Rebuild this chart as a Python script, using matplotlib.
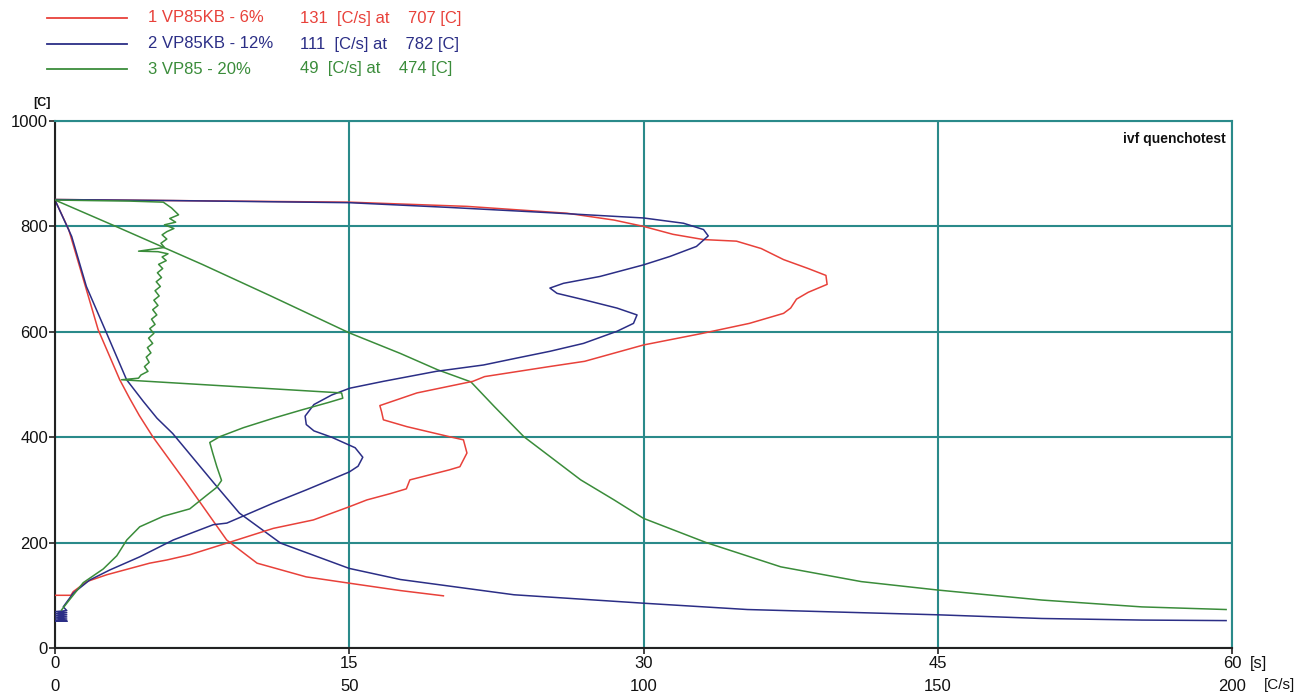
import matplotlib
matplotlib.use("Agg")
import matplotlib.pyplot as plt
from matplotlib.lines import Line2D

plt.rcParams['font.family'] = ['Liberation Sans', 'DejaVu Sans']

RED = "#e8413a"
BLUE = "#2b2e86"
GREEN = "#3a8c3a"
TEAL = "#2a8a8a"

# legend rows
names = ["1 VP85KB - 6%", "2 VP85KB - 12%", "3 VP85 - 20%"]
peak_rate = [131, 111, 49]
peak_temp = [707, 782, 474]
colors = [RED, BLUE, GREEN]

x_ticks_s = [0, 15, 30, 45, 60]
x_ticks_rate = [0, 50, 100, 150, 200]
y_ticks = [0, 200, 400, 600, 800, 1000]

# temperature vs time [s]
red_t = [0, 0.7, 1.45, 2.2, 3.3, 3.8, 4.3, 5.0, 6.7, 8.75, 10.3, 12.8, 15.0, 17.6, 19.8]
red_T = [850, 794, 699, 604, 509, 474, 441, 400, 313, 205, 161, 135, 123, 109, 99]

blue_t = [0, 0.85, 1.6, 2.6, 3.65, 4.5, 5.2, 6.0, 8.1, 9.4, 11.5, 15.0, 17.6, 23.4, 30.0,
          35.3, 41.1, 45.0, 50.3, 55.4, 59.7]
blue_T = [850, 781, 686, 600, 509, 468, 436, 407, 313, 256, 199, 151, 130, 101, 85,
          73, 67, 63, 56, 53, 52]

green_t = [0, 3.1, 7.5, 11.0, 15.0, 17.6, 19.5, 21.2, 22.4, 23.9, 26.8, 28.5, 30.0, 33.2,
           37.0, 41.1, 45.0, 50.3, 55.4, 59.7]
green_T = [850, 800, 728, 668, 598, 559, 528, 505, 458, 401, 319, 281, 246, 200,
           154, 126, 110, 91, 78, 73]

# temperature vs cooling rate [C/s]
red_r = [0, 20, 50, 70, 87, 95, 100, 105, 110.2, 115.8, 120, 123.8, 128, 131, 131.2, 128,
         126, 125, 123.8, 118, 110, 100, 90, 84, 73, 71, 61.5, 55.2, 55.5, 55.8, 59.8, 67,
         69.4, 70, 68.8, 67, 60.3, 59.7, 57, 53, 50, 43.9, 37.1, 29.2, 22.9, 19, 16.1, 8.8,
         5.4, 3.1, 2.7, 0]
red_rT = [851, 849, 846, 838, 825, 812, 800, 785, 775, 772, 758, 737, 720, 707, 690, 675,
          662, 645, 635, 616, 597, 575, 544, 534, 515, 506, 484, 460, 448, 433, 420, 401,
          395, 370, 344, 338, 319, 302, 293, 281, 268, 243, 227, 199, 177, 167, 161, 139,
          126, 107, 100, 100]

blue_r = [0, 20, 50, 67, 84, 100, 106.8, 110.2, 111, 109, 104.5, 100, 92.6, 86.4, 84.1,
          85.3, 89.8, 95.5, 98.9, 98.3, 95.5, 89.8, 84.1, 78.4, 72.8, 64.8, 55.8, 50.1, 47,
          44, 42.5, 42.7, 44, 47, 51, 52.3, 51.5, 50, 42.7, 37.1, 29.2, 26.9, 20.1, 14.4,
          9.3, 5.9, 3.1, 1.4, 2.0, 0.1, 2.0, 0.1, 2.0, 0.1, 2.0, 0.1, 2.0, 0.1, 2.0, 0.1, 2.0, 0]
blue_rT = [851, 849, 845, 836, 826, 816, 806, 794, 782, 762, 743, 727, 705, 692, 683,
           673, 661, 645, 632, 616, 601, 578, 563, 550, 537, 525, 506, 493, 480,
           462, 440, 424, 412, 400, 380, 362, 345, 334, 300, 275, 237, 234, 205, 173,
           148, 129, 104, 78, 71, 69, 67, 65, 63, 61, 59, 57, 55, 53, 51, 51, 51, 51]

green_r = [0, 6, 12.7, 18.4, 19.8, 21.0, 19.5, 20.5, 18.6, 20.2, 19.0, 18.2, 19.0, 18.0,
           18.6, 14.2, 17.5, 19.2, 18.2, 18.9, 17.6, 18.3, 17.4, 18.1, 17.2, 17.9, 17.0,
           17.7, 16.8, 17.5, 16.6, 17.3, 16.4, 17.0, 16.1, 16.8, 15.9, 16.6, 15.7, 16.3,
           15.5, 16.0, 15.2, 15.8, 14.6, 14.2, 11.3, 48.7, 48.9, 46.5, 42, 37.1, 32, 28,
           26.3, 26.8, 27.5, 28.3, 27.5, 25.8, 22.9, 18.4, 14.4, 12.2, 10.5, 8.2, 4.8, 2.5,
           1.1]
green_rT = [850, 849, 848, 846, 835, 822, 815, 808, 803, 796, 790, 784, 776, 768,
            760, 753, 752, 748, 742, 735, 728, 720, 712, 703, 695, 686, 678,
            668, 660, 650, 642, 632, 624, 614, 606, 597, 588, 578, 570, 560,
            552, 542, 534, 525, 518, 512, 509, 484, 474, 466, 452, 436, 418, 401,
            390, 370, 344, 318, 305, 290, 264, 250, 230, 205, 175, 150, 124, 92,
            72]

W, H = 1295, 697
fig = plt.figure(figsize=(W / 100, H / 100), dpi=100)
ax = fig.add_axes([55 / W, 49 / H, 1177 / W, 527 / H])

ax.set_xlim(0, 60)
ax.set_ylim(0, 1000)
ax.set_xticks(x_ticks_s)
ax.set_xticklabels([str(v) for v in x_ticks_s])
ax.set_yticks(y_ticks)
ax.set_yticklabels([str(v) for v in y_ticks])
ax.set_axisbelow(True)
ax.grid(True, color=TEAL, lw=1.5)
for s in ['top', 'right']:
    ax.spines[s].set_color(TEAL)
    ax.spines[s].set_linewidth(1.5)
for s in ['left', 'bottom']:
    ax.spines[s].set_color('#222222')
    ax.spines[s].set_linewidth(1.5)
ax.tick_params(axis='both', direction='out', length=4, width=1.2, color='#222222',
               labelsize=12, labelcolor='#111111')
ax.tick_params(axis='x', pad=2)
ax.tick_params(axis='y', pad=1)

ax.plot(red_t, red_T, color=RED, lw=1.1)
ax.plot(blue_t, blue_T, color=BLUE, lw=1.1)
ax.plot(green_t, green_T, color=GREEN, lw=1.1)

ax2 = ax.twiny()
ax2.set_xlim(0, 200)
ax2.set_xticks(x_ticks_rate)
ax2.set_xticklabels([str(v) for v in x_ticks_rate])
ax2.xaxis.tick_bottom()
ax2.tick_params(axis='x', length=0, pad=22, labelsize=12, labelcolor='#111111')
for s in ax2.spines.values():
    s.set_visible(False)

ax2.plot(red_r, red_rT, color=RED, lw=1.1)
ax2.plot(blue_r, blue_rT, color=BLUE, lw=1.1)
ax2.plot(green_r, green_rT, color=GREEN, lw=1.1)

ax.annotate("[s]", xy=(1, 0), xycoords='axes fraction', xytext=(13, -11),
            textcoords='offset points', ha='left', va='center', fontsize=12, color='#111111')
ax.annotate("[C/s]", xy=(1, 0), xycoords='axes fraction', xytext=(23, -27),
            textcoords='offset points', ha='left', va='center', fontsize=11, color='#111111')
ax.annotate("[C]", xy=(0, 1), xycoords='axes fraction', xytext=(-9, 13),
            textcoords='offset points', ha='center', va='center', fontsize=9,
            fontweight='bold', color='#111111')
ax.text(0.995, 0.965, "ivf quenchotest", transform=ax.transAxes, ha='right', va='center',
        fontsize=10, fontweight='bold', color='#111111')

# legend block above the plot
row_y = [18, 44, 69]
for name, r, t, c, y in zip(names, peak_rate, peak_temp, colors, row_y):
    fy = 1 - y / H
    fig.add_artist(Line2D([47 / W, 127 / W], [fy, fy], color=c, lw=1.3))
    fig.text(148 / W, fy, name, color=c, fontsize=12, va='center', ha='left')
    fig.text(300 / W, fy, f"{r}  [C/s] at    {t} [C]", color=c, fontsize=12,
             va='center', ha='left')

fig.savefig("out.png", dpi=100, facecolor='white')
